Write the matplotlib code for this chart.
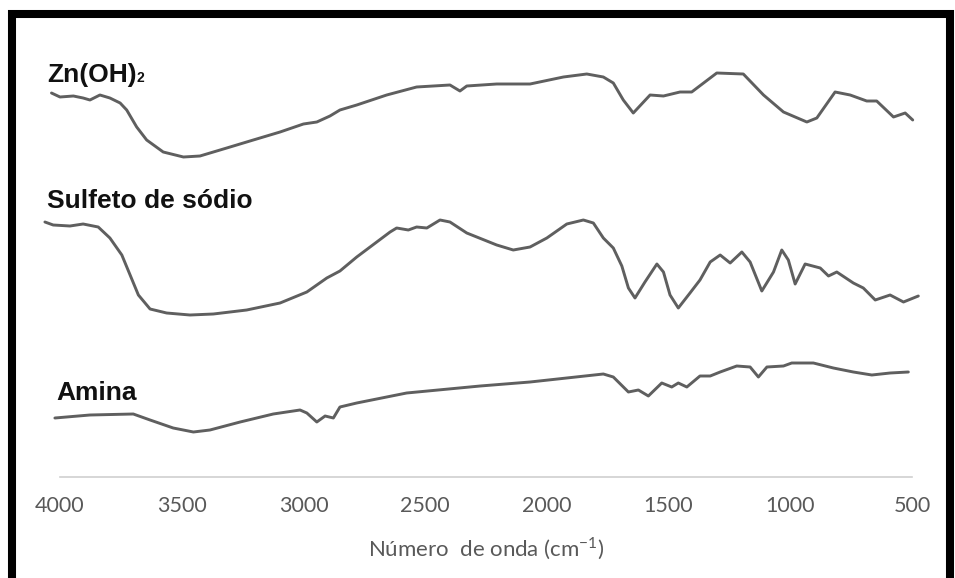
import matplotlib.pyplot as plt
from matplotlib.patches import Rectangle

plt.rcParams['mathtext.fontset'] = 'custom'
plt.rcParams['mathtext.rm'] = 'Lato'

# FTIR spectra, wavenumber (cm-1) vs transmittance (a.u., offset per sample)
zn_wn = [4035, 4000, 3945, 3905, 3877, 3836, 3795, 3753, 3726, 3685, 3644, 3576, 3493,
         3425, 3315, 3206, 3096, 3000, 2945, 2891, 2850, 2781, 2658, 2535, 2398, 2357,
         2329, 2206, 2069, 1932, 1836, 1768, 1727, 1686, 1645, 1576, 1521, 1453, 1405,
         1302, 1193, 1110, 1028, 932, 891, 816, 754, 686, 645, 576, 528, 497]
zn_t = [407, 403, 404, 402, 400, 405, 402, 397, 390, 373, 360, 348, 343,
        344, 352, 360, 368, 376, 378, 384, 390, 395, 405, 413, 415, 409,
        414, 416, 416, 423, 426, 423, 417, 400, 387, 405, 404, 408, 408,
        427, 426, 405, 388, 378, 382, 408, 405, 399, 399, 383, 387, 380]

na2s_wn = [4062, 4028, 3959, 3905, 3843, 3795, 3746, 3712, 3678, 3630, 3562, 3466, 3370,
           3233, 3096, 2986, 2904, 2850, 2781, 2644, 2617, 2569, 2535, 2493, 2439, 2398,
           2329, 2288, 2206, 2138, 2069, 2000, 1918, 1850, 1809, 1768, 1727, 1692, 1665,
           1638, 1597, 1548, 1521, 1494, 1460, 1412, 1371, 1329, 1288, 1247, 1199, 1165,
           1117, 1069, 1035, 1008, 980, 939, 877, 843, 809, 741, 700, 651, 590, 535, 474]
na2s_t = [278, 275, 274, 276, 273, 262, 245, 225, 205, 191, 187, 185, 186,
          190, 197, 208, 222, 229, 243, 268, 272, 270, 273, 272, 280, 278,
          267, 263, 255, 250, 253, 262, 276, 280, 277, 262, 252, 234, 212,
          202, 218, 236, 228, 205, 192, 207, 220, 238, 245, 237, 248, 238,
          209, 228, 250, 240, 216, 236, 232, 224, 228, 217, 212, 200, 205, 198, 204]

amina_wn = [4021, 3877, 3699, 3630, 3535, 3452, 3384, 3260, 3124, 3014, 2986, 2945, 2911,
            2877, 2850, 2781, 2576, 2274, 2069, 1768, 1727, 1665, 1624, 1583, 1528, 1487,
            1460, 1425, 1371, 1329, 1288, 1220, 1165, 1131, 1096, 1028, 994, 905, 823,
            741, 665, 590, 515]
amina_t = [82, 85, 86, 80, 72, 68, 70, 78, 86, 90, 87, 78, 84,
           82, 93, 97, 107, 114, 118, 126, 123, 108, 110, 104, 117, 113,
           117, 113, 124, 124, 128, 134, 133, 123, 133, 134, 137, 137, 132,
           128, 125, 127, 128]

tick_vals = [4000, 3500, 3000, 2500, 2000, 1500, 1000, 500]

fig = plt.figure(figsize=(9.55, 5.78), dpi=100)
ax = fig.add_axes([60 / 955, 101 / 578, 852 / 955, 457 / 578])

line_kw = dict(color='#5f5f5f', lw=2.1, solid_joinstyle='round',
               solid_capstyle='round', clip_on=False)
ax.plot(zn_wn, zn_t, **line_kw)
ax.plot(na2s_wn, na2s_t, **line_kw)
ax.plot(amina_wn, amina_t, **line_kw)

ax.set_xlim(4000, 500)
ax.set_ylim(23, 480)
ax.set_xticks(tick_vals)
ax.set_xticklabels([str(v) for v in tick_vals], family='Lato', fontsize=15.5, color='#595959')
ax.tick_params(axis='x', length=0, pad=14)
ax.set_yticks([])
for s in ['left', 'right', 'top']:
    ax.spines[s].set_visible(False)
ax.spines['bottom'].set_color('#d0d0d0')
ax.spines['bottom'].set_linewidth(1.2)

lab_kw = dict(family='Liberation Sans', fontweight='bold', fontsize=19,
              color='#111111', va='baseline', ha='left')
t = ax.text(4053, 418, 'Zn(OH)', **lab_kw)
ax.annotate('2', xy=(1, 0), xycoords=t, xytext=(0, 1.5), textcoords='offset points',
            family='Liberation Sans', fontweight='bold', fontsize=10, color='#111111',
            va='bottom', ha='left')
ax.text(4053, 292, 'Sulfeto de sódio', **lab_kw)
ax.text(4016, 100, 'Amina', **lab_kw)

fig.text(486 / 955, 1 - 549 / 578, 'Número  de onda (cm$^{-1}$)', family='Lato',
         fontsize=16, color='#595959', ha='center', va='center')

# thick black frame around the picture
fig.patches.append(Rectangle((12 / 955, -0.1), 938 / 955, 1 - 14 / 578 + 0.1,
                             transform=fig.transFigure, fill=False,
                             edgecolor='black', lw=5.8))

plt.savefig('out.png', dpi=100)
